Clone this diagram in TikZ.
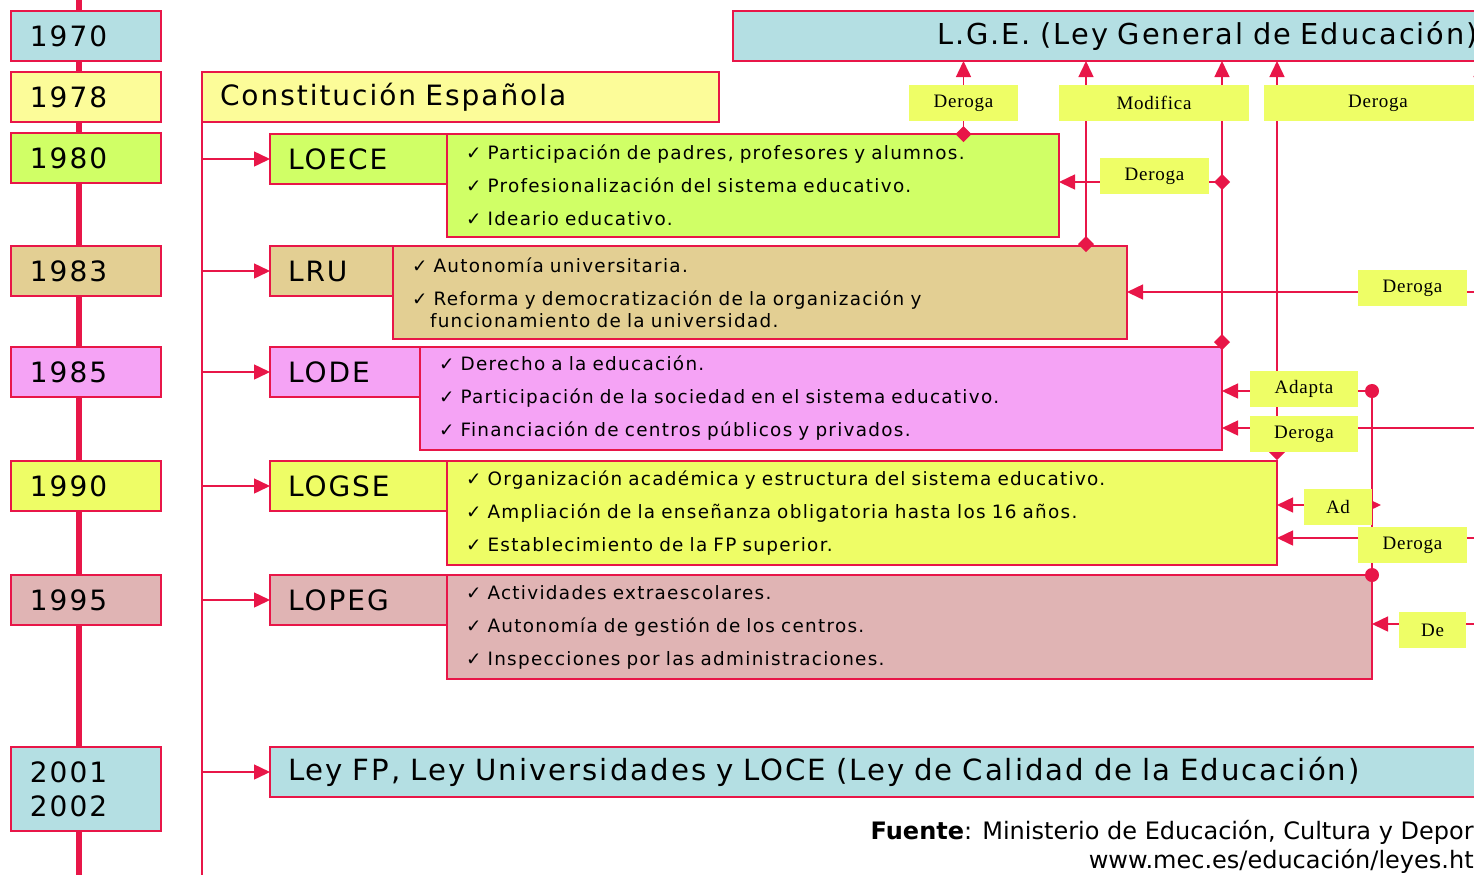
\documentclass[tikz,border=0pt]{standalone}
\usepackage{fontspec}
\setmainfont{DejaVu Sans}
\newfontfamily\wideface[LetterSpace=7]{DejaVu Sans}
\newfontfamily\smallface[LetterSpace=7]{DejaVu Sans}
\newfontfamily\tagface[LetterSpace=4]{Liberation Serif}
\usepackage{tikz}
\usetikzlibrary{arrows.meta}
\usetikzlibrary{positioning}
\usetikzlibrary{calc}

\definecolor{lawred}{RGB}{232,22,72}
\definecolor{lgeblue}{RGB}{180,223,227}
\definecolor{ceyellow}{RGB}{252,252,153}
\definecolor{oelime}{RGB}{208,255,102}
\definecolor{rutan}{RGB}{227,207,147}
\definecolor{ldpink}{RGB}{245,163,245}
\definecolor{lgyellow}{RGB}{238,253,102}
\definecolor{lprose}{RGB}{224,180,180}
\definecolor{tagfill}{RGB}{238,254,102}

\pgfdeclarelayer{front}
\pgfsetlayers{main,front}

\tikzset{
	yearbox/.style = {draw=lawred, line width=0.8pt, fill=#1,
		anchor=north west, align=left, text width=56pt, outer sep=0pt,
		inner xsep=9.5pt, inner ysep=0pt, minimum height=25pt,
		font=\wideface\fontsize{14}{17}\selectfont},
	lawbox/.style  = {yearbox=#1, inner xsep=9pt},
	detbox/.style  = {draw=lawred, line width=0.8pt, fill=#1, outer sep=0pt,
		anchor=north west, align=left, inner xsep=9.5pt, inner ysep=0pt,
		font=\smallface\fontsize{9.2}{11}\selectfont},
	tag/.style     = {fill=tagfill, minimum height=18pt, inner sep=0pt,
		font=\tagface\fontsize{9.5}{11}\selectfont},
	link/.style    = {draw=lawred, line width=0.75pt},
	arr/.style     = {link, -{Triangle[length=8pt,width=7.5pt]}},
	dmd/.style     = {link, {Diamond[length=8pt,width=8pt]}-{Triangle[length=8pt,width=7.5pt]}},
	timeline/.style = {draw=lawred, line width=3pt}
}

\begin{document}
\begin{tikzpicture}[x=0.5pt,y=-0.5pt]
\useasboundingbox (0,0) rectangle (1474,875);
\clip (0,0) rectangle (1474,875);

\coordinate (tltop) at (79,0);
\coordinate (tlbot) at (79,875);
\coordinate (cbot) at (202,875);
\draw[timeline] (tltop) -- (tlbot);

% years
\node[yearbox=lgeblue]  (y70) at (11,11)  {1970};
\node[yearbox=ceyellow] (y78) at (11,72)  {1978};
\node[yearbox=oelime]   (y80) at (11,133) {1980};
\node[yearbox=rutan]    (y83) at (11,246) {1983};
\node[yearbox=ldpink]   (y85) at (11,347) {1985};
\node[yearbox=lgyellow] (y90) at (11,461) {1990};
\node[yearbox=lprose]   (y95) at (11,575) {1995};
\node[yearbox=lgeblue, minimum height=42pt] (y01) at (11,747) {2001\\2002};

% laws
\node[lawbox=lgeblue, text width=366.5pt, inner xsep=6pt, align=right,
	font=\wideface\fontsize{14.4}{17}\selectfont] (lge) at (733,11)
	{L.G.E. (Ley General de Educación)};
\node[lawbox=ceyellow, text width=240.5pt] (ce) at (202,72) {Constitución Española};
\draw[link] (ce.south west) -- (cbot);

\node[lawbox=oelime, text width=70.5pt] (oeN) at (270,134) {LOECE};
\node[detbox=oelime, text width=287pt, minimum height=51.5pt] (oeD) at (oeN.north east)
	{✓ Participación de padres, profesores y alumnos.\\[5.5pt]
	 ✓ Profesionalización del sistema educativo.\\[5.5pt]
	 ✓ Ideario educativo.};

\node[lawbox=rutan, text width=43.5pt] (ruN) at (270,246) {LRU};
\node[detbox=rutan, text width=348pt, minimum height=46.5pt] (ruD) at (ruN.north east)
	{✓ Autonomía universitaria.\\[5.5pt]
	 ✓ Reforma y democratización de la organización y\\
	 \hspace*{9pt}funcionamiento de la universidad.};

\node[lawbox=ldpink, text width=57pt] (ldN) at (270,347) {LODE};
\node[detbox=ldpink, text width=382pt, minimum height=51.5pt] (ldD) at (ldN.north east)
	{✓ Derecho a la educación.\\[5.5pt]
	 ✓ Participación de la sociedad en el sistema educativo.\\[5.5pt]
	 ✓ Financiación de centros públicos y privados.};

\node[lawbox=lgyellow, text width=70.5pt] (lgN) at (270,461) {LOGSE};
\node[detbox=lgyellow, text width=396pt, minimum height=52pt] (lgD) at (lgN.north east)
	{✓ Organización académica y estructura del sistema educativo.\\[5.5pt]
	 ✓ Ampliación de la enseñanza obligatoria hasta los 16 años.\\[5.5pt]
	 ✓ Establecimiento de la FP superior.};

\node[lawbox=lprose, text width=70.5pt] (lpN) at (270,575) {LOPEG};
\node[detbox=lprose, text width=443.5pt, minimum height=52pt] (lpD) at (lpN.north east)
	{✓ Actividades extraescolares.\\[5.5pt]
	 ✓ Autonomía de gestión de los centros.\\[5.5pt]
	 ✓ Inspecciones por las administraciones.};

\node[lawbox=lgeblue, text width=597pt,
	font=\wideface\fontsize{14.6}{17}\selectfont] (fpN) at (270,747)
	{Ley FP, Ley Universidades y LOCE (Ley de Calidad de la Educación)};

\foreach \n in {oeN,ruN,ldN,lgN,lpN,fpN}
	\draw[arr] (cbot |- \n.west) -- (\n.west);

% relations
\begin{pgfonlayer}{front}
\clip (0,0) rectangle (1474,875);
\node[tag, minimum width=54.5pt] (tA) at (963.5,103) {Deroga};
\node[tag, minimum width=95pt]   (tM) at (1154,103)  {Modifica};
\node[tag, minimum width=114pt]  (tB) at (1378,103)  {Deroga};
\node[tag, minimum width=54.5pt] (tC) at (1154.5,176) {Deroga};
\node[tag, minimum width=54.5pt] (tD) at (1412.5,288) {Deroga};
\node[tag, minimum width=54pt]   (tE) at (1304,389)  {Adapta};
\node[tag, minimum width=54pt]   (tF) at (1304,434)  {Deroga};
\node[tag, minimum width=34pt]   (tG) at (1338,507)  {Ad};
\node[tag, minimum width=54.5pt] (tH) at (1412.5,545) {Deroga};
\node[tag, minimum width=33.5pt] (tI) at (1432.5,630) {De};
\end{pgfonlayer}

\coordinate (m1) at (1086,0);
\coordinate (fr) at (1481,0);
\coordinate (jC) at (1230,182);
\coordinate (jD) at (1500,292);
\coordinate (jE) at (1372,391);
\coordinate (jF) at (1500,428);
\coordinate (jG) at (1372,505);
\coordinate (jH) at (1500,538);
\coordinate (jI) at (1500,624);

\draw[dmd] ($(oeD.north -| tA)+(0,8)$) -- (lge.south -| tA);
\draw[dmd] ($(ruD.north -| m1)+(0,6)$) -- (lge.south -| m1);
\draw[dmd] ($(ldD.north east)+(0,3)$) -- (lge.south -| ldD.east);
\draw[dmd] ($(lgD.north east)+(0,-1)$) -- (lge.south -| lgD.east);
\draw[arr] (tB.north -| fr) -- (lge.south -| fr);
\draw[dmd] (jC) -- (oeD.east |- jC);
\draw[arr] (jD) -- (ruD.east |- jD);
\draw[arr] (jE) -- (ldD.east |- jE);
\draw[link, {Circle[length=7pt]}-{Circle[length=7pt]}]
	($(jE)+(0,-7)$) -- ($(jE |- lpD.north)+(0,7)$);
\draw[arr] (jF) -- (ldD.east |- jF);
\draw[arr] (jG) -- (lgD.east |- jG);
\draw[arr] (jG) -- ($(jG)+(9,0)$);
\draw[arr] (jH) -- (lgD.east |- jH);
\draw[arr] (jI) -- (lpD.east |- jI);

\node[anchor=north east, align=right, inner sep=0pt,
	font=\fontsize{12}{14.5}\selectfont] (src) at (1474,820)
	{\textbf{Fuente}: Ministerio de Educación, Cultura y Depor\\
	 www.mec.es/educación/leyes.ht};
\end{tikzpicture}
\end{document}
